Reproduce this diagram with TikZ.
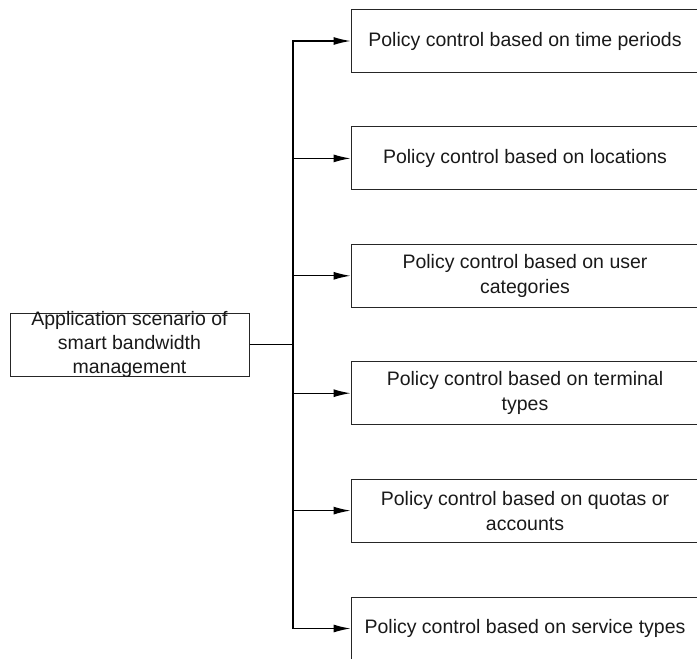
\documentclass[tikz,border=0pt]{standalone}
\usepackage{fontspec}
\setmainfont{Liberation Sans}
\usetikzlibrary{arrows.meta}

\tikzset{
  frame/.style={draw=black!85, line width=1pt, inner sep=0pt},
  policybox/.style={frame, minimum width=348pt, minimum height=63pt,
    align=center, text=black!90,
    font=\fontsize{19.5}{25}\selectfont},
  caption/.style={align=center, text=black!90, inner sep=0pt,
    font=\fontsize{19.5}{24}\selectfont},
  link/.style={draw=black, line width=1.2pt},
  arr/.style={link, -{Latex[length=17pt,width=8pt]}},
}

\begin{document}
\begin{tikzpicture}[x=1pt, y=-1pt]
\useasboundingbox (0,0) rectangle (697,659);

% root box with its three-line caption
\node[frame, minimum width=239pt, minimum height=63pt] (src) at (129.5,344.5) {};
\node[caption] (srctext) at (129.5,344) {Application scenario of\\smart bandwidth\\management};

% the six policy boxes
\node[policybox] (b1) at (525,41)    {Policy control based on time periods};
\node[policybox] (b2) at (525,158.4) {Policy control based on locations};
\node[policybox] (b3) at (525,275.8) {Policy control based on user\\categories};
\node[policybox] (b4) at (525,393.2) {Policy control based on terminal\\types};
\node[policybox] (b5) at (525,510.6) {Policy control based on quotas or\\accounts};
\node[policybox] (b6) at (525,628.5) {Policy control based on service types};

% trunk: the outer branches turn the corners of the vertical bar
\coordinate (jn) at (293,344.5);
\draw[link] (src.east) -- (jn);
\draw[arr] (jn) -- (b1.west -| jn) -- (b1.west);
\draw[arr] (jn) -- (b6.west -| jn) -- (b6.west);
\foreach \b in {b2,b3,b4,b5}
  \draw[arr] (\b.west -| jn) -- (\b.west);
\end{tikzpicture}
\end{document}
